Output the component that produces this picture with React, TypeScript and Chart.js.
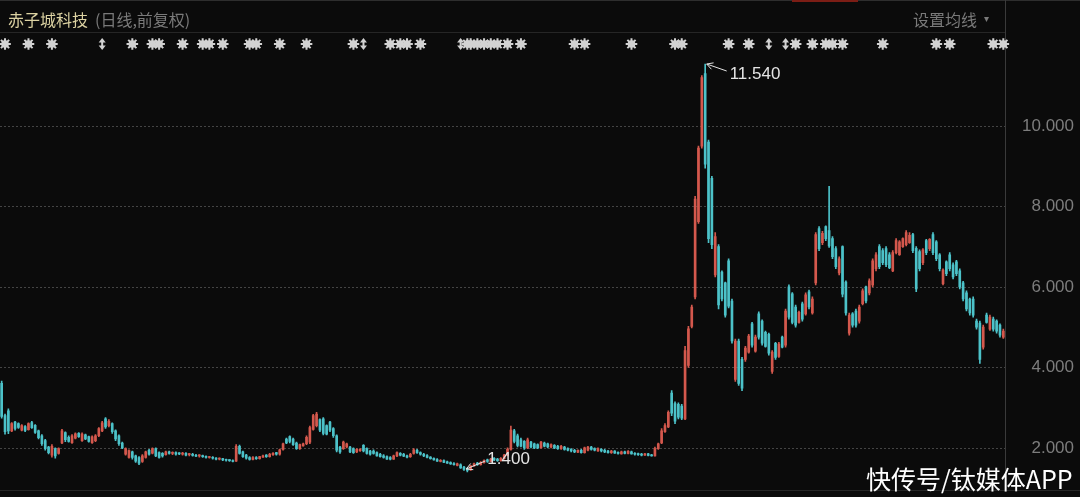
import { useEffect, useRef } from "react";
import { Chart, registerables } from "chart.js";

Chart.register(...registerables);

// Daily OHLC (前复权), 300 sessions
const opens = [
  3.60, 2.80, 2.92, 2.42, 2.64, 2.60, 2.44, 2.53, 2.45, 2.63,
  2.56, 2.42, 2.30, 2.18, 2.02, 1.82, 1.98, 1.86, 2.12, 2.38,
  2.26, 2.13, 2.24, 2.36, 2.18, 2.32, 2.28, 2.13, 2.18, 2.30,
  2.42, 2.72, 2.55, 2.60, 2.42, 2.30, 2.12, 1.84, 1.76, 1.90,
  1.80, 1.76, 1.66, 1.76, 1.94, 1.87, 1.98, 1.88, 1.86, 1.83,
  1.90, 1.86, 1.88, 1.86, 1.84, 1.86, 1.83, 1.84, 1.81, 1.80,
  1.81, 1.79, 1.76, 1.76, 1.74, 1.72, 1.73, 1.70, 1.69, 1.68,
  1.67, 2.04, 1.90, 1.82, 1.76, 1.71, 1.76, 1.73, 1.77, 1.82,
  1.78, 1.83, 1.88, 1.84, 1.96, 2.22, 2.28, 2.22, 2.12, 1.98,
  2.05, 2.10, 2.14, 2.46, 2.55, 2.70, 2.72, 2.55, 2.64, 2.48,
  2.30, 2.02, 1.98, 2.02, 2.02, 1.98, 1.90, 1.93, 2.06, 1.98,
  1.92, 1.92, 1.88, 1.84, 1.80, 1.78, 1.76, 1.72, 1.80, 1.86,
  1.84, 1.80, 1.78, 1.86, 1.94, 1.88, 1.84, 1.81, 1.77, 1.74,
  1.71, 1.66, 1.68, 1.65, 1.63, 1.61, 1.56, 1.58, 1.52, 1.48,
  1.45, 1.55, 1.62, 1.58, 1.63, 1.70, 1.66, 1.74, 1.72, 1.68,
  1.73, 1.82, 1.96, 2.42, 2.30, 2.20, 2.16, 2.00, 2.14, 2.10,
  2.08, 2.00, 2.12, 2.10, 2.02, 2.06, 2.04, 1.98, 2.02, 1.98,
  1.96, 1.94, 1.89, 1.94, 1.88, 1.94, 2.02, 1.98, 1.92, 1.96,
  1.94, 1.92, 1.88, 1.92, 1.88, 1.85, 1.90, 1.86, 1.90, 1.86,
  1.85, 1.84, 1.82, 1.85, 1.82, 1.80, 1.98, 2.12, 2.40, 2.52,
  3.36, 3.10, 3.08, 3.04, 2.72, 4.05, 5.02, 5.75, 7.62, 9.50,
  11.30, 9.60, 8.70, 6.30, 7.00, 6.37, 6.10, 6.65, 5.65, 3.70,
  4.65, 4.20, 4.20, 4.38, 5.08, 4.40, 5.33, 5.15, 4.87, 4.82,
  3.90, 4.60, 4.27, 4.75, 4.55, 6.00, 5.83, 5.50, 5.12, 5.58,
  5.33, 5.88, 5.35, 6.10, 7.45, 7.10, 7.50, 7.40, 7.20, 6.95,
  6.35, 7.00, 6.12, 4.85, 5.33, 5.40, 5.15, 5.58, 6.00, 5.85,
  6.05, 6.45, 7.00, 6.90, 6.95, 6.80, 6.40, 6.85, 6.80, 7.00,
  7.05, 7.10, 7.30, 6.96, 6.88, 6.60, 7.15, 6.95, 7.30, 7.12,
  6.80, 6.08, 6.62, 6.80, 6.55, 6.62, 6.40, 6.10, 5.85, 5.70,
  5.70, 5.15, 5.10, 4.50, 5.30, 4.95, 5.20, 5.15, 5.05, 4.75,
];

const highs = [
  3.66, 2.84, 2.97, 2.63, 2.66, 2.62, 2.58, 2.55, 2.62, 2.66,
  2.58, 2.44, 2.33, 2.21, 2.04, 2.08, 2.00, 2.00, 2.46, 2.40,
  2.30, 2.33, 2.37, 2.38, 2.37, 2.34, 2.29, 2.30, 2.33, 2.50,
  2.66, 2.75, 2.70, 2.62, 2.45, 2.32, 2.14, 2.00, 1.95, 1.92,
  1.82, 1.78, 1.83, 1.92, 1.96, 2.00, 2.00, 1.90, 1.88, 1.92,
  1.92, 1.90, 1.90, 1.88, 1.89, 1.88, 1.86, 1.86, 1.84, 1.83,
  1.82, 1.80, 1.79, 1.78, 1.76, 1.75, 1.74, 1.72, 1.71, 1.70,
  2.08, 2.07, 1.92, 1.84, 1.78, 1.78, 1.78, 1.79, 1.82, 1.83,
  1.86, 1.88, 1.89, 1.97, 2.12, 2.24, 2.30, 2.24, 2.14, 2.09,
  2.12, 2.30, 2.54, 2.83, 2.88, 2.72, 2.75, 2.57, 2.66, 2.50,
  2.32, 2.04, 2.17, 2.12, 2.04, 2.00, 1.98, 1.98, 2.08, 2.00,
  1.94, 1.95, 1.90, 1.86, 1.83, 1.80, 1.78, 1.82, 1.90, 1.88,
  1.86, 1.82, 1.86, 1.98, 1.96, 1.90, 1.86, 1.83, 1.78, 1.75,
  1.73, 1.71, 1.70, 1.67, 1.65, 1.63, 1.62, 1.60, 1.54, 1.50,
  1.56, 1.62, 1.64, 1.66, 1.70, 1.72, 1.74, 1.76, 1.74, 1.76,
  1.84, 2.00, 2.54, 2.46, 2.34, 2.24, 2.18, 2.24, 2.16, 2.12,
  2.10, 2.16, 2.14, 2.12, 2.10, 2.08, 2.06, 2.06, 2.04, 2.00,
  1.98, 1.96, 1.95, 1.96, 2.02, 2.04, 2.04, 2.00, 2.00, 1.98,
  1.96, 1.94, 1.94, 1.93, 1.90, 1.92, 1.92, 1.93, 1.92, 1.88,
  1.87, 1.86, 1.86, 1.86, 1.84, 2.02, 2.12, 2.48, 2.60, 2.92,
  3.42, 3.14, 3.12, 3.08, 4.52, 5.02, 5.55, 8.25, 9.50, 11.25,
  11.54, 9.65, 8.75, 7.35, 7.05, 6.40, 6.12, 6.70, 5.70, 4.70,
  4.70, 4.25, 4.52, 4.82, 5.12, 4.80, 5.38, 5.18, 4.90, 4.85,
  4.42, 4.62, 4.62, 4.78, 5.45, 6.05, 5.86, 5.55, 5.40, 5.62,
  5.85, 5.92, 5.75, 7.35, 7.50, 7.38, 7.52, 8.50, 7.25, 7.00,
  6.75, 7.02, 6.15, 5.35, 5.36, 5.45, 5.55, 5.95, 6.02, 6.20,
  6.70, 6.85, 7.05, 6.95, 7.00, 6.85, 6.90, 7.20, 7.15, 7.22,
  7.40, 7.35, 7.33, 7.00, 6.92, 6.95, 7.18, 7.20, 7.35, 7.15,
  6.83, 6.45, 6.65, 6.85, 6.60, 6.66, 6.45, 6.14, 5.90, 5.72,
  5.75, 5.20, 5.15, 5.05, 5.35, 5.30, 5.25, 5.18, 5.08, 4.95,
];

const lows = [
  2.74, 2.34, 2.35, 2.40, 2.44, 2.48, 2.42, 2.40, 2.44, 2.48,
  2.36, 2.22, 2.06, 1.94, 1.85, 1.77, 1.74, 1.84, 2.10, 2.15,
  2.14, 2.11, 2.22, 2.26, 2.16, 2.20, 2.14, 2.11, 2.15, 2.28,
  2.40, 2.48, 2.52, 2.36, 2.18, 2.06, 1.98, 1.82, 1.74, 1.72,
  1.64, 1.58, 1.64, 1.74, 1.82, 1.85, 1.78, 1.74, 1.77, 1.82,
  1.84, 1.83, 1.82, 1.83, 1.82, 1.80, 1.80, 1.79, 1.78, 1.77,
  1.76, 1.74, 1.74, 1.72, 1.70, 1.70, 1.68, 1.67, 1.66, 1.65,
  1.66, 1.84, 1.76, 1.72, 1.69, 1.70, 1.71, 1.72, 1.76, 1.76,
  1.77, 1.81, 1.82, 1.82, 1.94, 2.10, 2.12, 2.06, 1.96, 1.96,
  2.04, 2.08, 2.10, 2.44, 2.52, 2.40, 2.32, 2.32, 2.40, 2.26,
  1.90, 1.86, 1.96, 2.00, 1.88, 1.86, 1.88, 1.91, 1.90, 1.84,
  1.82, 1.84, 1.79, 1.77, 1.74, 1.71, 1.70, 1.71, 1.78, 1.80,
  1.78, 1.75, 1.76, 1.84, 1.86, 1.82, 1.78, 1.75, 1.72, 1.69,
  1.66, 1.65, 1.63, 1.61, 1.59, 1.57, 1.55, 1.49, 1.44, 1.40,
  1.44, 1.54, 1.56, 1.57, 1.62, 1.64, 1.65, 1.68, 1.66, 1.67,
  1.72, 1.80, 1.94, 2.12, 2.02, 2.02, 1.96, 1.98, 2.00, 1.98,
  1.98, 1.99, 2.02, 2.00, 2.00, 1.98, 1.96, 1.96, 1.94, 1.92,
  1.90, 1.88, 1.88, 1.87, 1.87, 1.92, 1.94, 1.92, 1.91, 1.90,
  1.88, 1.87, 1.86, 1.86, 1.84, 1.84, 1.85, 1.85, 1.84, 1.82,
  1.81, 1.80, 1.81, 1.80, 1.79, 1.79, 1.96, 2.10, 2.38, 2.50,
  2.80, 2.60, 2.72, 2.70, 2.70, 4.00, 4.98, 5.70, 7.58, 9.45,
  8.95, 7.10, 6.95, 6.25, 5.45, 5.65, 5.25, 5.48, 4.60, 3.65,
  3.55, 3.42, 4.15, 4.35, 4.50, 4.38, 4.70, 4.55, 4.50, 4.30,
  3.85, 4.20, 4.25, 4.48, 4.50, 5.20, 5.08, 5.00, 5.10, 5.15,
  5.30, 5.45, 5.32, 6.05, 6.90, 7.05, 7.15, 6.98, 6.70, 6.45,
  6.30, 5.75, 5.30, 4.80, 5.00, 5.00, 5.10, 5.55, 5.60, 5.80,
  6.00, 6.40, 6.45, 6.55, 6.50, 6.45, 6.38, 6.82, 6.78, 6.98,
  7.02, 7.08, 6.85, 5.88, 6.40, 6.55, 6.80, 6.90, 6.80, 6.65,
  6.40, 6.05, 6.28, 6.40, 6.20, 6.28, 5.95, 5.65, 5.40, 5.30,
  5.25, 4.95, 4.10, 4.45, 5.10, 4.92, 4.90, 4.85, 4.75, 4.72,
];

const closes = [
  2.78, 2.40, 2.42, 2.60, 2.48, 2.51, 2.55, 2.43, 2.60, 2.50,
  2.38, 2.25, 2.10, 1.98, 1.88, 2.04, 1.80, 1.98, 2.42, 2.20,
  2.16, 2.30, 2.35, 2.28, 2.34, 2.22, 2.16, 2.27, 2.30, 2.48,
  2.62, 2.52, 2.66, 2.40, 2.22, 2.10, 2.00, 1.98, 1.93, 1.76,
  1.67, 1.62, 1.80, 1.90, 1.84, 1.98, 1.80, 1.76, 1.80, 1.90,
  1.86, 1.88, 1.84, 1.85, 1.87, 1.82, 1.84, 1.81, 1.79, 1.82,
  1.78, 1.76, 1.77, 1.74, 1.72, 1.73, 1.70, 1.69, 1.68, 1.66,
  2.04, 1.86, 1.78, 1.74, 1.71, 1.76, 1.73, 1.78, 1.80, 1.78,
  1.84, 1.86, 1.84, 1.95, 2.10, 2.12, 2.16, 2.08, 1.98, 2.08,
  2.10, 2.26, 2.50, 2.80, 2.84, 2.44, 2.36, 2.34, 2.44, 2.30,
  1.94, 1.90, 2.14, 2.10, 1.90, 1.88, 1.96, 1.96, 1.92, 1.86,
  1.84, 1.86, 1.80, 1.78, 1.76, 1.72, 1.72, 1.80, 1.88, 1.82,
  1.79, 1.77, 1.84, 1.95, 1.88, 1.84, 1.80, 1.76, 1.73, 1.70,
  1.67, 1.69, 1.64, 1.62, 1.60, 1.58, 1.60, 1.50, 1.46, 1.44,
  1.55, 1.60, 1.58, 1.64, 1.68, 1.66, 1.72, 1.70, 1.68, 1.74,
  1.82, 1.96, 2.44, 2.16, 2.06, 2.04, 2.00, 2.20, 2.02, 2.00,
  2.00, 2.14, 2.04, 2.02, 2.08, 2.00, 1.98, 2.04, 1.96, 1.94,
  1.92, 1.90, 1.94, 1.88, 2.00, 2.02, 1.96, 1.94, 1.98, 1.92,
  1.90, 1.88, 1.92, 1.87, 1.86, 1.90, 1.86, 1.91, 1.85, 1.84,
  1.83, 1.82, 1.85, 1.81, 1.80, 1.98, 2.10, 2.42, 2.55, 2.88,
  2.86, 2.66, 2.76, 2.74, 4.42, 4.96, 5.50, 8.18, 9.45, 11.20,
  9.05, 7.20, 7.05, 7.25, 5.55, 5.70, 5.30, 5.52, 4.66, 4.65,
  3.60, 3.48, 4.48, 4.78, 4.55, 4.75, 4.75, 4.60, 4.52, 4.35,
  4.38, 4.25, 4.58, 4.50, 5.40, 5.25, 5.12, 5.05, 5.37, 5.20,
  5.80, 5.50, 5.70, 7.30, 6.95, 7.33, 7.20, 7.02, 6.75, 6.50,
  6.70, 5.82, 5.35, 5.30, 5.05, 5.05, 5.50, 5.90, 5.65, 6.15,
  6.65, 6.80, 6.50, 6.60, 6.55, 6.48, 6.85, 7.15, 7.12, 7.20,
  7.35, 7.28, 6.90, 5.95, 6.45, 6.92, 6.85, 7.18, 6.85, 6.70,
  6.45, 6.42, 6.33, 6.45, 6.25, 6.33, 6.00, 5.70, 5.45, 5.35,
  5.30, 5.00, 4.20, 5.00, 5.12, 5.25, 4.95, 4.90, 4.80, 4.90,
];

const sessions = closes.map((_, i) => `D${i + 1}`);
const yTicks = [2, 4, 6, 8, 10];
// information markers row (session indices)
const starMarks = [1, 8, 15, 39, 45, 47, 54, 60, 62, 66, 74, 76, 83, 91, 105, 116, 119, 121, 125,
  139, 140, 142, 144, 146, 148, 151, 155, 171, 174, 188, 201, 203, 217, 223, 237, 242, 246, 248,
  251, 263, 279, 283, 296, 299];
const arrowMarks = [30, 108, 137, 229, 234];

const BG = "#0b0b0b";
const UP = "#d4584d";
const DOWN = "#4cc2c9";
const GREY = "#7d7d7d";
const NUM_FONT = "'Liberation Sans', Arial, sans-serif";
const CJK_FONT = "'Noto Sans CJK SC', 'Noto Sans', sans-serif";

export default function App() {
  const ref = useRef<HTMLCanvasElement>(null);

  useEffect(() => {
    if (!ref.current) return;
    const colors = closes.map((c, i) => (c >= opens[i] ? UP : DOWN));

    const decor = {
      id: "decor",
      beforeDraw(chart: any) {
        const { ctx, width, height } = chart;
        ctx.save();
        ctx.fillStyle = BG;
        ctx.fillRect(0, 0, width, height);
        ctx.lineWidth = 1;
        ctx.strokeStyle = "#2e2e2e";
        ctx.beginPath();
        ctx.moveTo(0, 0.5);
        ctx.lineTo(width, 0.5);
        ctx.stroke();
        ctx.fillStyle = "#7c1d15";
        ctx.fillRect(792, 0, 66, 2);
        ctx.strokeStyle = "#262626";
        ctx.beginPath();
        ctx.moveTo(0, 32.5);
        ctx.lineTo(1005, 32.5);
        ctx.stroke();
        ctx.strokeStyle = "#3a3a3a";
        ctx.beginPath();
        ctx.moveTo(1005.5, 0);
        ctx.lineTo(1005.5, 490);
        ctx.stroke();
        ctx.strokeStyle = "#262626";
        ctx.beginPath();
        ctx.moveTo(0, 490.5);
        ctx.lineTo(width, 490.5);
        ctx.stroke();
        ctx.restore();
      },
      beforeDatasetsDraw(chart: any) {
        const { ctx, chartArea, scales } = chart;
        ctx.save();
        ctx.strokeStyle = "#444444";
        ctx.lineWidth = 1;
        ctx.setLineDash([2, 2]);
        yTicks.forEach((v) => {
          const y = Math.round(scales.y.getPixelForValue(v)) + 0.5;
          ctx.beginPath();
          ctx.moveTo(chartArea.left, y);
          ctx.lineTo(chartArea.right, y);
          ctx.stroke();
        });
        ctx.restore();
      },
      afterDatasetsDraw(chart: any) {
        const { ctx, scales } = chart;
        const xs = scales.x;
        const ys = scales.y;
        ctx.save();
        const my = 44;
        ctx.fillStyle = "#d2d2d2";
        ctx.strokeStyle = "#d2d2d2";
        ctx.lineWidth = 2;
        starMarks.forEach((i) => {
          const x = xs.getPixelForValue(i);
          ctx.beginPath();
          ctx.arc(x, my, 3.8, 0, Math.PI * 2);
          ctx.fill();
          ctx.beginPath();
          for (let k = 0; k < 8; k++) {
            const a = (k * Math.PI) / 4;
            ctx.moveTo(x, my);
            ctx.lineTo(x + Math.cos(a) * 5.8, my + Math.sin(a) * 5.8);
          }
          ctx.stroke();
        });
        arrowMarks.forEach((i) => {
          const x = xs.getPixelForValue(i);
          ctx.beginPath();
          ctx.moveTo(x, my - 6);
          ctx.lineTo(x - 3.5, my - 1.5);
          ctx.lineTo(x + 3.5, my - 1.5);
          ctx.closePath();
          ctx.fill();
          ctx.beginPath();
          ctx.moveTo(x, my + 6);
          ctx.lineTo(x - 3.5, my + 1.5);
          ctx.lineTo(x + 3.5, my + 1.5);
          ctx.closePath();
          ctx.fill();
          ctx.fillRect(x - 1, my - 2, 2, 4);
        });

        let hi = 0;
        let lo = 0;
        highs.forEach((h, i) => { if (h > highs[hi]) hi = i; });
        lows.forEach((l, i) => { if (l < lows[lo]) lo = i; });
        ctx.strokeStyle = "#e4e4e4";
        ctx.fillStyle = "#e4e4e4";
        ctx.lineWidth = 1;
        ctx.font = `17px ${NUM_FONT}`;
        ctx.textBaseline = "middle";
        ctx.textAlign = "left";
        const arrow = (tx: number, ty: number, ex: number, ey: number) => {
          const ang = Math.atan2(ey - ty, ex - tx);
          ctx.beginPath();
          ctx.moveTo(ex, ey);
          ctx.lineTo(tx, ty);
          ctx.moveTo(tx + Math.cos(ang + 0.5) * 7, ty + Math.sin(ang + 0.5) * 7);
          ctx.lineTo(tx, ty);
          ctx.lineTo(tx + Math.cos(ang - 0.5) * 7, ty + Math.sin(ang - 0.5) * 7);
          ctx.stroke();
        };
        const hx = xs.getPixelForValue(hi) + 1.5;
        const hy = ys.getPixelForValue(highs[hi]);
        arrow(hx, hy, hx + 20, hy + 7);
        ctx.fillText(highs[hi].toFixed(3), hx + 23, hy + 10);

        const lx = xs.getPixelForValue(lo) - 1;
        const ly = ys.getPixelForValue(lows[lo]) - 3;
        arrow(lx, ly, lx + 19, ly - 8);
        ctx.fillText(lows[lo].toFixed(3), lx + 21, ly - 10);
        ctx.restore();
      },
    };

    const chart = new Chart(ref.current, {
      type: "bar",
      data: {
        labels: sessions,
        datasets: [
          {
            label: "wick",
            data: lows.map((l, i) => [l, highs[i]]),
            backgroundColor: colors,
            barThickness: 1,
            grouped: false,
            order: 2,
          } as any,
          {
            label: "body",
            data: opens.map((o, i) => [o, closes[i]]),
            backgroundColor: colors,
            barThickness: 2,
            minBarLength: 1,
            grouped: false,
            order: 1,
          } as any,
        ],
      },
      options: {
        responsive: false,
        animation: false,
        layout: { padding: { top: 34, bottom: 10, left: 0, right: 6 } },
        plugins: { legend: { display: false }, tooltip: { enabled: false } },
        scales: {
          x: { display: false, offset: true },
          y: {
            position: "right",
            min: 1.031,
            max: 12.286,
            grid: { display: false },
            border: { display: false },
            afterBuildTicks: (s: any) => {
              s.ticks = yTicks.map((v) => ({ value: v }));
            },
            afterFit: (s: any) => {
              s.width = 69;
            },
            ticks: {
              color: GREY,
              font: { family: NUM_FONT, size: 17 },
              crossAlign: "far",
              padding: 0,
              callback: (v: any) => Number(v).toFixed(3),
            },
          },
        },
      },
      plugins: [decor],
    });
    return () => chart.destroy();
  }, []);

  const abs = (o: any) => ({ position: "absolute" as const, whiteSpace: "nowrap" as const, ...o });

  return (
    <div style={{ position: "fixed", left: 0, top: 0, width: 1080, height: 497, background: BG, overflow: "hidden" }}>
      <canvas ref={ref} width={1080} height={497} style={{ display: "block", width: 1080, height: 497 }} />
      <span style={abs({ left: 8, top: 11, font: `16px/16px ${CJK_FONT}`, color: "#dcd2a2" })}>赤子城科技</span>
      <span style={abs({ left: 95, top: 11, font: `16px/16px ${CJK_FONT}`, color: "#7a7a7a" })}>(日线,前复权)</span>
      <span style={abs({ left: 913, top: 11, font: `16px/16px ${CJK_FONT}`, color: "#7a7a7a" })}>设置均线</span>
      <span style={abs({ left: 984, top: 13, font: `10px/10px ${CJK_FONT}`, color: "#7a7a7a" })}>▾</span>
      <span style={abs({ left: 866, top: 466, font: `25px/25px ${CJK_FONT}`, color: "#ffffff" })}>快传号/钛媒体APP</span>
    </div>
  );
}
